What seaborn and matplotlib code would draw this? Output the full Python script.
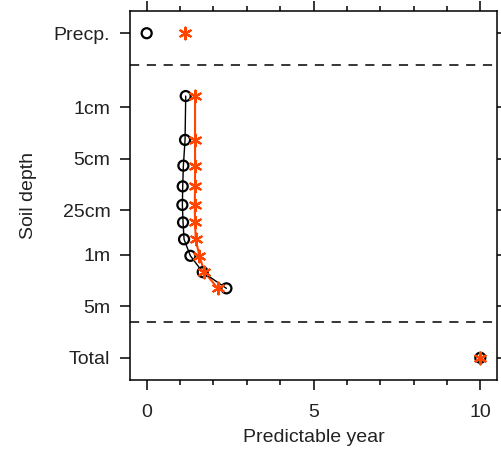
import matplotlib
matplotlib.use("Agg")
import matplotlib.pyplot as plt
import matplotlib.ticker as mticker
import numpy as np
import pandas as pd
import seaborn as sns

# Soil layer node depths (m) and predictable years per layer
layer_depth_m = [0.0071, 0.0279, 0.0623, 0.1189, 0.2122, 0.3661, 0.6198, 1.0380, 1.7276, 2.8646]
years_circle = [1.17, 1.15, 1.10, 1.08, 1.07, 1.09, 1.12, 1.31, 1.68, 2.39]
years_star = [1.45, 1.45, 1.45, 1.45, 1.44, 1.45, 1.47, 1.58, 1.73, 2.13]

# Precipitation and total rows (placed on the same depth axis)
precip_depth = 0.001
precip_circle = 0.0
precip_star = 1.15
total_depth = 25.0
total_circle = 10.0
total_star = 10.0

# Separators between rows
separator_depths = [0.00266, 8.3]

ytick_values = [0.001, 0.01, 0.05, 0.25, 1, 5, 25]
ytick_labels = ["Precp.", "1cm", "5cm", "25cm", "1m", "5m", "Total"]
xtick_major = [0, 5, 10]

RED = "#ff4500"
FS = 14

sns.set_theme(style="ticks")
plt.rcParams["font.family"] = ["Liberation Sans", "DejaVu Sans"]

fig = plt.figure(figsize=(5.02, 4.5), dpi=100)
ax = fig.add_axes([130 / 502, 1 - 380 / 450, 367 / 502, 369 / 450])

soil = pd.DataFrame({"depth": layer_depth_m, "circle": years_circle, "star": years_star})

sns.lineplot(data=soil, x="star", y="depth", sort=False, estimator=None,
             color=RED, lw=1.5, ax=ax, zorder=2)
sns.lineplot(data=soil, x="circle", y="depth", sort=False, estimator=None,
             color="black", lw=1.0, ax=ax, zorder=2)

circles = pd.DataFrame({
    "x": [precip_circle] + years_circle + [total_circle],
    "y": [precip_depth] + layer_depth_m + [total_depth],
})
stars = pd.DataFrame({
    "x": [precip_star] + years_star + [total_star],
    "y": [precip_depth] + layer_depth_m + [total_depth],
})

sns.scatterplot(data=circles, x="x", y="y", marker="o", s=52,
                facecolor="none", edgecolor="black", linewidth=1.6, ax=ax, zorder=3)
sns.scatterplot(data=stars, x="x", y="y", marker=(6, 2, 0), s=70,
                color=RED, edgecolor=RED, linewidth=1.6, ax=ax, zorder=4)

for d in separator_depths:
    ax.axhline(d, color="black", lw=1.1, ls=(0, (6, 5)), zorder=1)

ax.set_yscale("log")
ax.set_ylim(50, 0.0005)
ax.set_xlim(-0.5, 10.5)

ax.yaxis.set_major_locator(mticker.FixedLocator(ytick_values))
ax.yaxis.set_major_formatter(mticker.FixedFormatter(ytick_labels))
ax.yaxis.set_minor_locator(mticker.NullLocator())
ax.xaxis.set_major_locator(mticker.FixedLocator(xtick_major))
ax.xaxis.set_minor_locator(mticker.MultipleLocator(1))

ax.tick_params(axis="both", which="major", direction="out", length=7.2, width=1.1,
               colors="black", labelcolor="#222222", labelsize=FS)
ax.tick_params(axis="x", which="minor", direction="out", length=3.6, width=1.1, colors="black")
ax.tick_params(axis="x", which="both", top=True, labeltop=False, pad=10)
ax.tick_params(axis="y", which="both", right=True, labelright=False, pad=7)

for sp in ax.spines.values():
    sp.set_visible(True)
    sp.set_linewidth(1.1)
    sp.set_color("black")

ax.set_xlabel("Predictable year", color="#222222", fontsize=FS, labelpad=6)
ax.set_ylabel("Soil depth", color="#222222", fontsize=FS, labelpad=12)

fig.savefig("out.png", dpi=100)
